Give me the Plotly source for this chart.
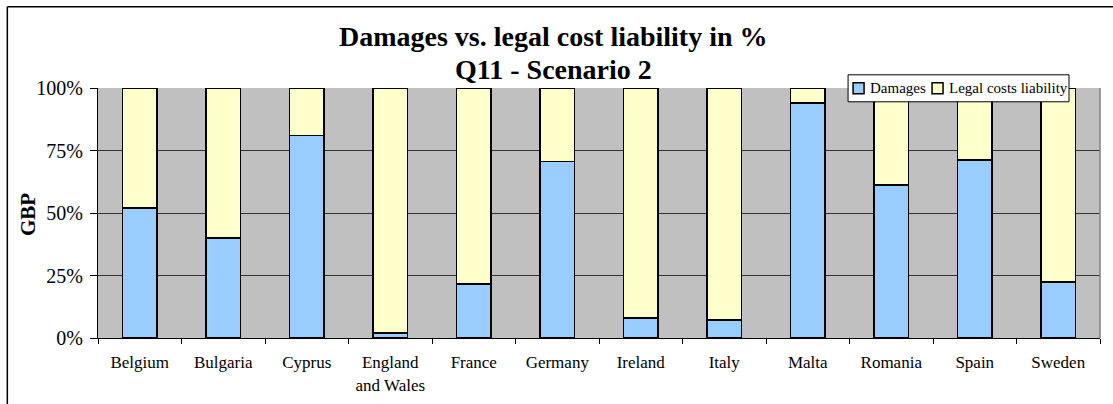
"""Damages vs. legal cost liability, stacked percentage bars."""

import plotly.graph_objects as go

countries = ["Belgium", "Bulgaria", "Cyprus", "England<br>and Wales", "France",
             "Germany", "Ireland", "Italy", "Malta", "Romania", "Spain", "Sweden"]
damages = [0.52, 0.40, 0.81, 0.02, 0.217, 0.706, 0.08, 0.073, 0.94, 0.613, 0.713, 0.224]
legal_costs = [1 - d for d in damages]
y_ticks = [0, 0.25, 0.5, 0.75, 1.0]
y_ticklabels = ["0%", "25%", "50%", "75%", "100%"]
series_names = ["Damages", "Legal costs liability"]
series_colors = ["#99CCFF", "#FFFFCC"]

SERIF = "Liberation Serif, Times New Roman, serif"

# pixel geometry of the plot area in the reference
L, R, T, B = 97.7, 1100.0, 88.2, 338.3
W, H = 1113, 404


def px_x(p):
    return (p - L) / (R - L)


def px_y(p):
    return (B - p) / (B - T)


fig = go.Figure()
for name, vals, col in zip(series_names, [damages, legal_costs], series_colors):
    fig.add_trace(go.Bar(
        x=countries, y=vals, name=name, width=0.41,
        marker=dict(color=col, line=dict(color="black", width=1.5)),
    ))

fig.update_layout(
    width=W, height=H, barmode="stack",
    paper_bgcolor="white", plot_bgcolor="#C0C0C0",
    margin=dict(l=L, r=W - R, t=T, b=H - B, pad=0, autoexpand=False),
    font=dict(family=SERIF, color="black"),
    showlegend=False,
    xaxis=dict(
        type="category", tickson="boundaries", ticks="outside", ticklen=5,
        tickcolor="black", showline=True, linecolor="black", linewidth=1,
        showgrid=False, tickfont=dict(size=17, family=SERIF),
        ticklabelstandoff=9,
    ),
    yaxis=dict(
        range=[0, 1], tickvals=y_ticks, ticktext=y_ticklabels,
        ticks="outside", ticklen=7, tickcolor="black",
        showline=True, linecolor="black", linewidth=1,
        showgrid=True, gridcolor="#333333", gridwidth=1, zeroline=False,
        tickfont=dict(size=20, family=SERIF), ticklabelstandoff=3,
    ),
)

fig.add_annotation(
    text="<b>GBP</b>", xref="paper", yref="paper", x=px_x(27), y=px_y(215),
    xanchor="center", yanchor="middle", textangle=-90, showarrow=False,
    font=dict(size=21, family=SERIF),
)
fig.add_annotation(
    text="<b>Damages vs. legal cost liability in %</b>",
    xref="paper", yref="paper", x=px_x(553), y=px_y(46.7),
    xanchor="center", yanchor="bottom", showarrow=False,
    font=dict(size=28, family=SERIF), yshift=-7,
)
fig.add_annotation(
    text="<b>Q11 - Scenario 2</b>",
    xref="paper", yref="paper", x=px_x(553), y=px_y(80.5),
    xanchor="center", yanchor="bottom", showarrow=False,
    font=dict(size=28, family=SERIF), yshift=-7,
)

# hand-made legend box (Excel style)
fig.add_shape(type="rect", xref="paper", yref="paper",
              x0=px_x(848), x1=px_x(1069), y0=px_y(102), y1=px_y(75),
              fillcolor="white", line=dict(color="black", width=1))
legend_items = [(853, 868), (932, 947)]
for (sx, tx), name, col in zip(legend_items, series_names, series_colors):
    fig.add_shape(type="rect", xref="paper", yref="paper",
                  x0=px_x(sx), x1=px_x(sx + 11), y0=px_y(94), y1=px_y(83),
                  fillcolor=col, line=dict(color="black", width=1.5))
    fig.add_annotation(text=name, xref="paper", yref="paper",
                       x=px_x(tx), y=px_y(88.5), xanchor="left", yanchor="middle",
                       showarrow=False, font=dict(size=15, family=SERIF))

# right edge of the plot area, grey
fig.add_shape(type="line", xref="paper", yref="paper", x0=1, x1=1, y0=0, y1=1,
              line=dict(color="#808080", width=1.5))
# outer chart frame (top and left edges visible in the crop)
fig.add_shape(type="line", xref="paper", yref="paper",
              x0=px_x(7), x1=px_x(W + 5), y0=px_y(7), y1=px_y(7),
              line=dict(color="black", width=1.5))
fig.add_shape(type="line", xref="paper", yref="paper",
              x0=px_x(7), x1=px_x(7), y0=px_y(7), y1=px_y(H + 5),
              line=dict(color="black", width=1.5))

# drop the browser's default body margin so the figure sits at the page corner
fig.write_html("out.html", config={"displayModeBar": False},
               post_script="document.body.style.margin='0px';")
